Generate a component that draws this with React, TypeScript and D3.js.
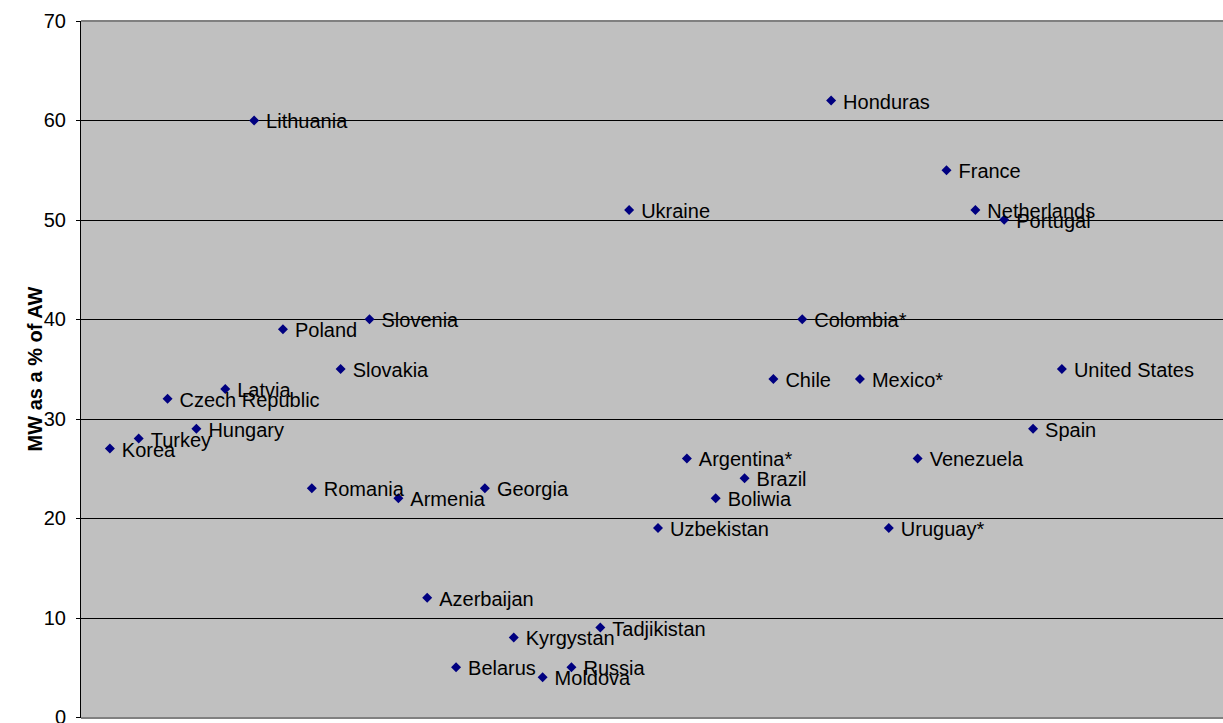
import React from "react";
import * as d3 from "d3";

// Minimum wage as a share of average wage, by country
const countries = [
  "Korea", "Turkey", "Czech Republic", "Hungary", "Latvia", "Lithuania", "Poland",
  "Romania", "Slovakia", "Slovenia", "Armenia", "Azerbaijan", "Belarus", "Georgia",
  "Kyrgystan", "Moldova", "Russia", "Tadjikistan", "Ukraine", "Uzbekistan",
  "Argentina*", "Boliwia", "Brazil", "Chile", "Colombia*", "Honduras", "Mexico*",
  "Uruguay*", "Venezuela", "France", "Netherlands", "Portugal", "Spain", "United States",
];
const mwShare = [
  27, 28, 32, 29, 33, 60, 39,
  23, 35, 40, 22, 12, 5, 23,
  8, 4, 5, 9, 51, 19,
  26, 22, 24, 34, 40, 62, 34,
  19, 26, 55, 51, 50, 29, 35,
];
const yTicks = [0, 10, 20, 30, 40, 50, 60, 70];
const yTitle = "MW as a % of AW";

const W = 1223;
const H = 723;
const left = 81;
const top = 21;
const bottom = 717;
const right = 1235;

const FONT = "'Liberation Sans', Arial, Helvetica, sans-serif";

export default function App() {
  const x = d3.scaleLinear().domain([0, 40]).range([left, right]);
  const y = d3.scaleLinear().domain([0, 70]).range([bottom, top]);
  const r = 5;

  const diamond = (cx: number, cy: number) => {
    const p = d3.path();
    p.moveTo(cx, cy - r);
    p.lineTo(cx + r, cy);
    p.lineTo(cx, cy + r);
    p.lineTo(cx - r, cy);
    p.closePath();
    return p.toString();
  };

  return (
    <svg
      width={W}
      height={H}
      style={{ position: "absolute", left: 0, top: 0, background: "#fff" }}
      fontFamily={FONT}
    >
      <rect x={left} y={top} width={right - left} height={bottom - top} fill="#C0C0C0" />
      {yTicks
        .filter((t) => t > 0 && t < 70)
        .map((t) => (
          <line
            key={"g" + t}
            x1={left}
            x2={right}
            y1={Math.round(y(t)) + 0.5}
            y2={Math.round(y(t)) + 0.5}
            stroke="#000"
            strokeWidth={1}
          />
        ))}
      <line x1={left} x2={right} y1={top} y2={top} stroke="#808080" strokeWidth={2} />
      <line x1={left} x2={right} y1={bottom + 1} y2={bottom + 1} stroke="#808080" strokeWidth={2} />
      <line x1={left - 0.5} x2={left - 0.5} y1={top} y2={bottom + 1} stroke="#000" strokeWidth={1} />
      {yTicks.map((t) => (
        <g key={"t" + t}>
          <line
            x1={left - 5}
            x2={left}
            y1={Math.round(y(t)) + 0.5}
            y2={Math.round(y(t)) + 0.5}
            stroke="#000"
          />
          <text
            x={66}
            y={y(t)}
            dy="0.35em"
            textAnchor="end"
            fontSize={20}
            fill="#000"
          >
            {t}
          </text>
        </g>
      ))}
      <text
        transform={`translate(35,${(top + bottom) / 2}) rotate(-90)`}
        textAnchor="middle"
        dy="0.35em"
        fontSize={20}
        fontWeight="bold"
        fill="#000"
      >
        {yTitle}
      </text>
      {countries.map((c, i) => (
        <path key={"p" + c} d={diamond(x(i + 1), y(mwShare[i]))} fill="#000080" />
      ))}
      {countries.map((c, i) => (
        <text
          key={"l" + c}
          x={x(i + 1) + 12}
          y={y(mwShare[i]) + 1}
          dy="0.35em"
          fontSize={20}
          fill="#000"
        >
          {c}
        </text>
      ))}
    </svg>
  );
}
